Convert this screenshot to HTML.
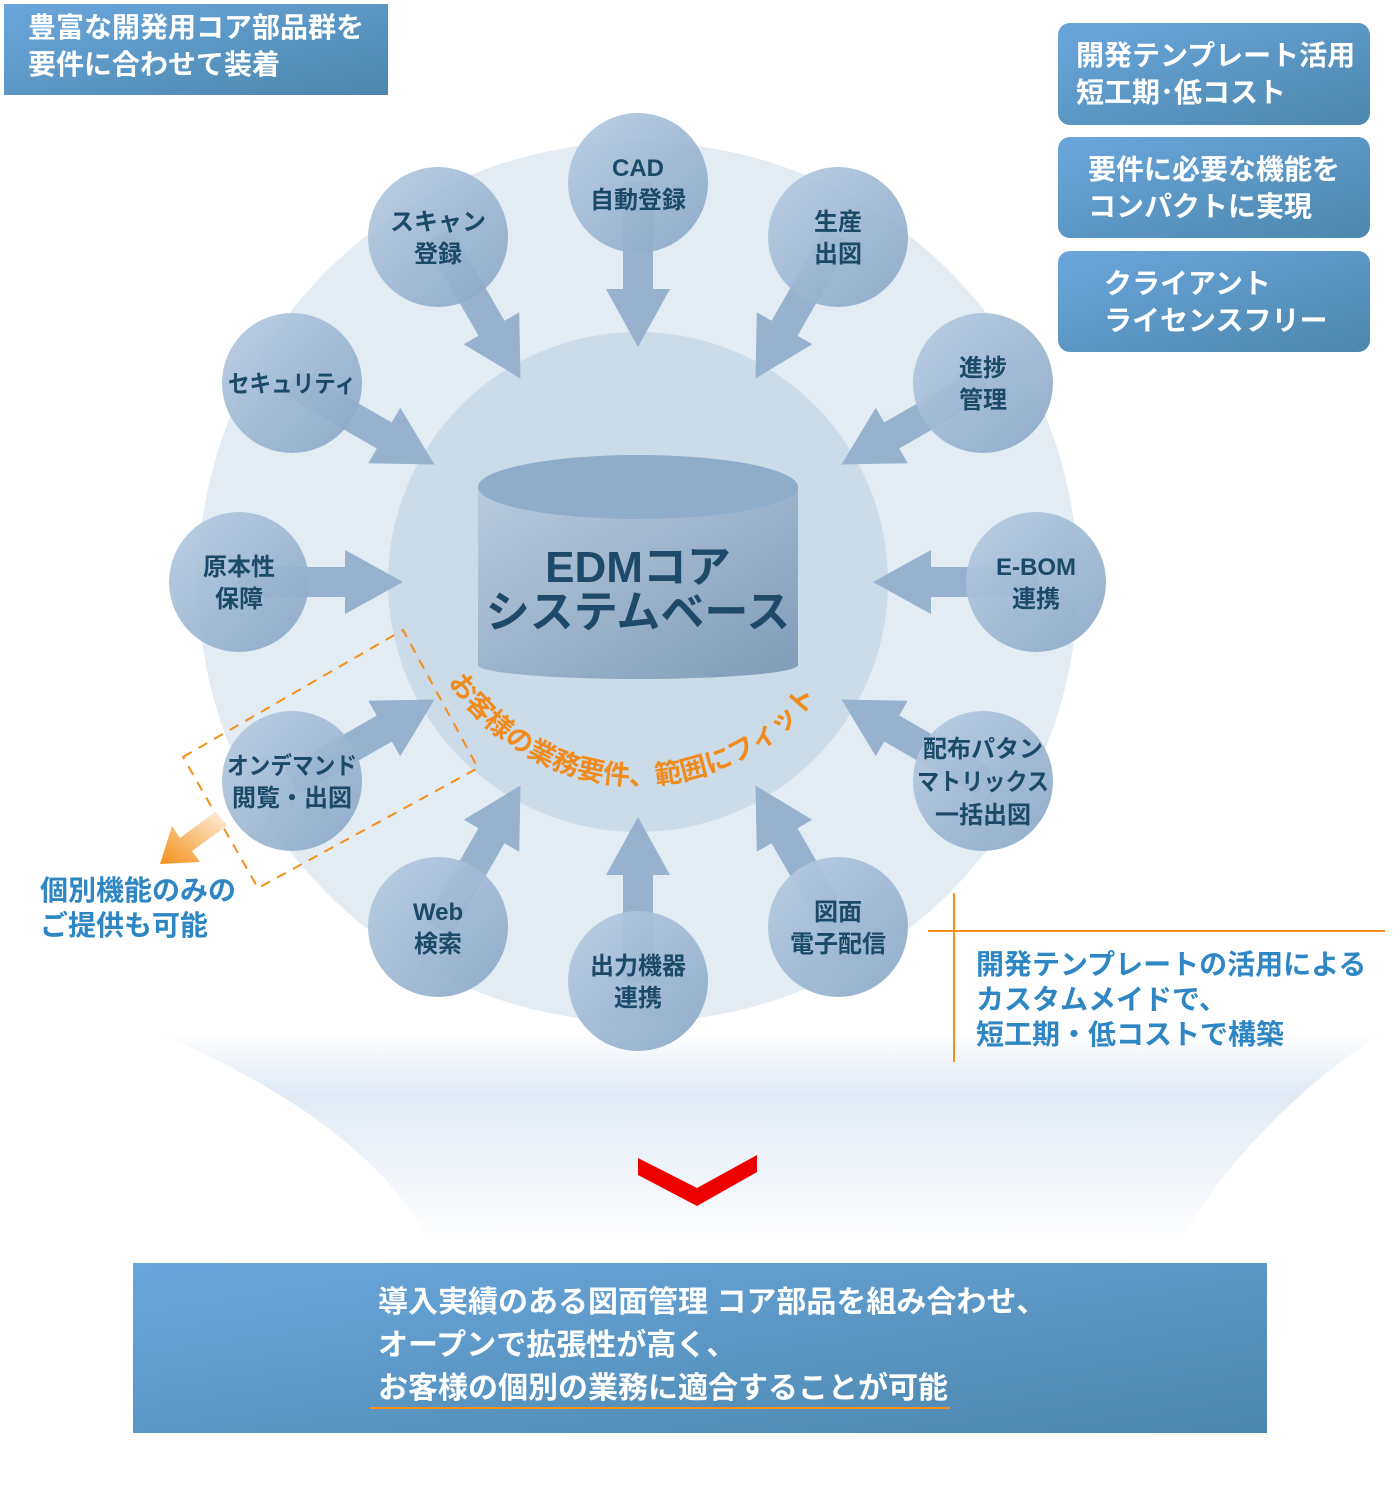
<!DOCTYPE html>
<html><head><meta charset="utf-8"><style>
html,body{margin:0;padding:0;background:#fff}
svg{display:block}
text{font-family:"Liberation Sans","Noto Sans CJK JP",sans-serif;font-weight:bold}
</style></head><body>
<svg width="1400" height="1500" viewBox="0 0 1400 1500" xmlns="http://www.w3.org/2000/svg">
<defs>
<linearGradient id="box" x1="0" y1="0" x2="1" y2="1"><stop offset="0" stop-color="#6aa6dc"/><stop offset="1" stop-color="#4c87ad"/></linearGradient>
<linearGradient id="sat" x1="0" y1="0" x2="1" y2="1"><stop offset="0" stop-color="#b9cde1" stop-opacity=".95"/><stop offset="1" stop-color="#86a5c6" stop-opacity=".9"/></linearGradient>
<linearGradient id="cyl" x1="0" y1="0" x2="1" y2="1"><stop offset="0" stop-color="#b9cadc"/><stop offset="1" stop-color="#7f9cb8"/></linearGradient>
<linearGradient id="funnel" x1="0" y1="0" x2="0" y2="1"><stop offset="0" stop-color="#ffffff"/><stop offset=".3" stop-color="#e0eaf5"/><stop offset="1" stop-color="#ffffff"/></linearGradient>
<linearGradient id="orng" x1="1" y1="0" x2="0" y2="1"><stop offset="0" stop-color="#fff3e4"/><stop offset="1" stop-color="#f39019"/></linearGradient>
</defs>

<path d="M150 1030 C 320 1100 400 1180 430 1245 L 1180 1245 C 1210 1180 1300 1080 1390 1030 Z" fill="url(#funnel)"/>

<circle cx="638" cy="582" r="440" fill="#e3ebf3"/>
<circle cx="638" cy="582" r="250" fill="#cbdbe8"/>

<g fill="#96b2cf">
<polygon transform="translate(638,582) rotate(-90)" points="235,0 293,-32 293,-15 400,-15 400,15 293,15 293,32"/>
<polygon transform="translate(638,582) rotate(-120)" points="235,0 293,-32 293,-15 400,-15 400,15 293,15 293,32"/>
<polygon transform="translate(638,582) rotate(-60)" points="235,0 293,-32 293,-15 400,-15 400,15 293,15 293,32"/>
<polygon transform="translate(638,582) rotate(-150)" points="235,0 293,-32 293,-15 400,-15 400,15 293,15 293,32"/>
<polygon transform="translate(638,582) rotate(-30)" points="235,0 293,-32 293,-15 400,-15 400,15 293,15 293,32"/>
<polygon transform="translate(638,582) rotate(180)" points="235,0 293,-32 293,-15 400,-15 400,15 293,15 293,32"/>
<polygon transform="translate(638,582) rotate(0)" points="235,0 293,-32 293,-15 400,-15 400,15 293,15 293,32"/>
<polygon transform="translate(638,582) rotate(150)" points="235,0 293,-32 293,-15 400,-15 400,15 293,15 293,32"/>
<polygon transform="translate(638,582) rotate(30)" points="235,0 293,-32 293,-15 400,-15 400,15 293,15 293,32"/>
<polygon transform="translate(638,582) rotate(120)" points="235,0 293,-32 293,-15 400,-15 400,15 293,15 293,32"/>
<polygon transform="translate(638,582) rotate(90)" points="235,0 293,-32 293,-15 400,-15 400,15 293,15 293,32"/>
<polygon transform="translate(638,582) rotate(60)" points="235,0 293,-32 293,-15 400,-15 400,15 293,15 293,32"/>
</g>

<path d="M478 487 L478 665 A160 14 0 0 0 798 665 L798 487 Z" fill="url(#cyl)"/>
<ellipse cx="638" cy="487" rx="160" ry="32" fill="#8eadcb"/>
<text x="638" y="582" text-anchor="middle" font-size="44" fill="#1d4a6a">EDMコア</text>
<text x="638" y="627" text-anchor="middle" font-size="44" fill="#1d4a6a">システムベース</text>

<path id="arc" d="M413 560 A225 225 0 0 0 863 560" fill="none"/>
<text font-size="27" fill="#f08c1e"><textPath href="#arc" startOffset="128" textLength="432" lengthAdjust="spacingAndGlyphs">お客様の業務要件、範囲にフィット</textPath></text>

<polygon points="183,757 403,630 478,768 258,888" fill="none" stroke="#f39019" stroke-width="2" stroke-dasharray="10,8"/>

<g fill="url(#sat)">
<circle cx="638" cy="183" r="70"/><circle cx="438" cy="237" r="70"/><circle cx="838" cy="237" r="70"/>
<circle cx="292" cy="383" r="70"/><circle cx="983" cy="383" r="70"/><circle cx="239" cy="582" r="70"/>
<circle cx="1036" cy="582" r="70"/><circle cx="292" cy="781" r="70"/><circle cx="983" cy="781" r="70"/>
<circle cx="438" cy="927" r="70"/><circle cx="638" cy="981" r="70"/><circle cx="838" cy="927" r="70"/>
</g>
<g font-size="24" fill="#1a4a6a" text-anchor="middle">
<text x="638" y="176">CAD</text><text x="638" y="208">自動登録</text>
<text x="438" y="230">スキャン</text><text x="438" y="262">登録</text>
<text x="838" y="230">生産</text><text x="838" y="262">出図</text>
<text x="292" y="392" textLength="128" lengthAdjust="spacingAndGlyphs">セキュリティ</text>
<text x="983" y="376">進捗</text><text x="983" y="408">管理</text>
<text x="239" y="575">原本性</text><text x="239" y="607">保障</text>
<text x="1036" y="575">E-BOM</text><text x="1036" y="607">連携</text>
<text x="292" y="774" textLength="130" lengthAdjust="spacingAndGlyphs">オンデマンド</text><text x="292" y="806">閲覧・出図</text>
<text x="983" y="757">配布パタン</text><text x="983" y="790" textLength="132" lengthAdjust="spacingAndGlyphs">マトリックス</text><text x="983" y="823">一括出図</text>
<text x="438" y="920">Web</text><text x="438" y="952">検索</text>
<text x="638" y="974">出力機器</text><text x="638" y="1006">連携</text>
<text x="838" y="920">図面</text><text x="838" y="952">電子配信</text>
</g>

<polygon points="230,828 215,812 180,838 172,826 160,864 200,862 192,851 228,825" fill="url(#orng)"/>
<text x="40" y="900" font-size="28" fill="#2f86c4">個別機能のみの</text>
<text x="40" y="935" font-size="28" fill="#2f86c4">ご提供も可能</text>

<rect x="4" y="4" width="384" height="91" fill="url(#box)"/>
<text x="28" y="37" font-size="28" fill="#fff">豊富な開発用コア部品群を</text>
<text x="28" y="74" font-size="28" fill="#fff">要件に合わせて装着</text>

<rect x="1058" y="23" width="312" height="102" rx="12" fill="url(#box)"/>
<rect x="1058" y="137" width="312" height="101" rx="12" fill="url(#box)"/>
<rect x="1058" y="251" width="312" height="101" rx="12" fill="url(#box)"/>
<g font-size="28" fill="#fff">
<text x="1076" y="65">開発テンプレート活用</text><text x="1076" y="102">短工期･低コスト</text>
<text x="1088" y="179">要件に必要な機能を</text><text x="1088" y="216">コンパクトに実現</text>
<text x="1104" y="293">クライアント</text><text x="1104" y="330">ライセンスフリー</text>
</g>

<line x1="928" y1="931" x2="1385" y2="931" stroke="#f39019" stroke-width="2"/>
<line x1="954" y1="893" x2="954" y2="1062" stroke="#f39019" stroke-width="2"/>
<g font-size="28" fill="#2f86c4">
<text x="976" y="974">開発テンプレートの活用による</text>
<text x="976" y="1009">カスタムメイドで、</text>
<text x="976" y="1044">短工期・低コストで構築</text>
</g>

<polygon points="638,1158 697,1188 757,1155 757,1172 697,1206 638,1175" fill="#ee0000"/>

<rect x="133" y="1263" width="1134" height="170" fill="url(#box)"/>
<g font-size="30" fill="#fff">
<text x="378" y="1312">導入実績のある図面管理 コア部品を組み合わせ、</text>
<text x="378" y="1355">オープンで拡張性が高く、</text>
<text x="378" y="1398">お客様の個別の業務に適合することが可能</text>
</g>
<line x1="370" y1="1408" x2="950" y2="1408" stroke="#f39019" stroke-width="2"/>
</svg>
</body></html>
